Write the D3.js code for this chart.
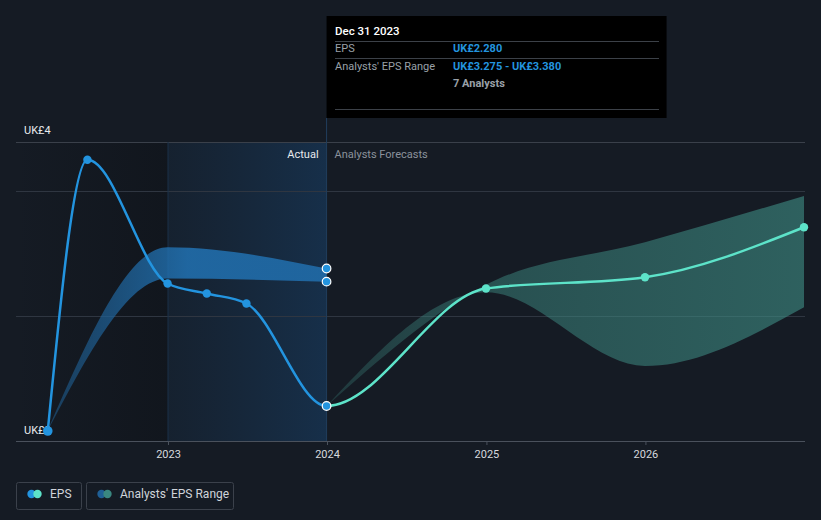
<!DOCTYPE html>
<html>
<head>
<meta charset="utf-8">
<script src="https://cdn.jsdelivr.net/npm/d3@7"></script>
<style>
  html, body { margin: 0; padding: 0; background: #151b24; }
  svg { display: block; font-family: Roboto, "Noto Sans", sans-serif; }
</style>
</head>
<body>
<svg id="chart" width="821" height="520"></svg>
<script>
// ---- data ----
const actualDates = ["2022-03-31", "2022-06-30", "2022-12-31", "2023-03-31", "2023-06-30", "2023-12-31"];
const actualEps   = [2.08, 4.25, 3.26, 3.18, 3.10, 2.28];

const pastRangeDates = ["2022-03-31", "2022-12-31", "2023-12-31"];
const pastRangeLow   = [2.08, 3.30, 3.275];
const pastRangeHigh  = [2.08, 3.55, 3.38];

const forecastDates = ["2023-12-31", "2024-12-31", "2025-12-31", "2026-12-31"];
const forecastEps   = [2.28, 3.22, 3.31, 3.71];
const forecastLow   = [2.28, 3.19, 2.60, 3.07];
const forecastHigh  = [2.28, 3.25, 3.59, 3.96];

const xTickLabels = ["2023", "2024", "2025", "2026"];
const yTickLabels = ["UK£2", "UK£4"];
const gridValues  = [3, 4];

const tooltipTitle = "Dec 31 2023";
const tooltipRows = [
  { label: "EPS", value: "UK£2.280" },
  { label: "Analysts' EPS Range", value: "UK£3.275 - UK£3.380", sub: "7 Analysts" }
];
const legendItems = ["EPS", "Analysts' EPS Range"];

(function () {
// ---- setup ----
const parse = d3.timeParse("%Y-%m-%d");
const svg = d3.select("#chart");
const pLeft = 16, pRight = 805, pTop = 142, pBottom = 441;

const x = d3.scaleTime()
  .domain([parse("2023-01-01"), parse("2024-01-01")])
  .range([168, 327]);
const y = d3.scaleLinear().domain([2, 4]).range([pBottom, 191]);

const actual = actualDates.map((d, i) => ({ date: parse(d), v: actualEps[i] }));
const forecast = forecastDates.map((d, i) => ({ date: parse(d), v: forecastEps[i], lo: forecastLow[i], hi: forecastHigh[i] }));
const pastRange = pastRangeDates.map((d, i) => ({ date: parse(d), lo: pastRangeLow[i], hi: pastRangeHigh[i] }));
const allEps = actual.concat(forecast.slice(1));
const splitDate = parse("2023-12-31");
const splitX = x(splitDate);
const yearStart = x(parse("2023-01-01"));

const defs = svg.append("defs");
const gPast = defs.append("linearGradient").attr("id", "pastBg").attr("x1", 0).attr("x2", 1);
gPast.append("stop").attr("offset", 0).attr("stop-color", "#17304a").attr("stop-opacity", 0.3);
gPast.append("stop").attr("offset", 1).attr("stop-color", "#17385a").attr("stop-opacity", 0.7);
const gDark = defs.append("linearGradient").attr("id", "darkBg").attr("x1", 0).attr("x2", 1);
gDark.append("stop").attr("offset", 0).attr("stop-color", "#0e1218").attr("stop-opacity", 0.0);
gDark.append("stop").attr("offset", 1).attr("stop-color", "#0e1218").attr("stop-opacity", 0.55);
const gBand = defs.append("linearGradient").attr("id", "pastBand").attr("gradientUnits", "userSpaceOnUse")
  .attr("x1", x(parse("2022-03-31"))).attr("x2", splitX).attr("y1", 0).attr("y2", 0);
gBand.append("stop").attr("offset", 0).attr("stop-color", "#1d5583").attr("stop-opacity", 0.6);
gBand.append("stop").attr("offset", 0.5).attr("stop-color", "#2277bb").attr("stop-opacity", 0.8);
gBand.append("stop").attr("offset", 1).attr("stop-color", "#2277bb").attr("stop-opacity", 0.75);
const gFc = defs.append("linearGradient").attr("id", "fcBand").attr("gradientUnits", "userSpaceOnUse")
  .attr("x1", splitX).attr("x2", pRight).attr("y1", 0).attr("y2", 0);
gFc.append("stop").attr("offset", 0).attr("stop-color", "#3f8f86").attr("stop-opacity", 0.25);
gFc.append("stop").attr("offset", 0.3).attr("stop-color", "#3f8f86").attr("stop-opacity", 0.45);
gFc.append("stop").attr("offset", 1).attr("stop-color", "#3f8f86").attr("stop-opacity", 0.6);

defs.append("clipPath").attr("id", "clipPast").append("rect")
  .attr("x", 0).attr("y", 0).attr("width", splitX).attr("height", 520);
defs.append("clipPath").attr("id", "clipFc").append("rect")
  .attr("x", splitX).attr("y", 0).attr("width", pRight - splitX).attr("height", 520);
defs.append("clipPath").attr("id", "clipPlot").append("rect")
  .attr("x", pLeft).attr("y", 0).attr("width", pRight - pLeft).attr("height", 520);

// backgrounds
svg.append("rect").attr("x", pLeft).attr("y", pTop).attr("width", yearStart - pLeft).attr("height", pBottom - pTop).attr("fill", "url(#darkBg)");
svg.append("rect").attr("x", yearStart).attr("y", pTop).attr("width", splitX - yearStart).attr("height", pBottom - pTop).attr("fill", "url(#pastBg)");

// gridlines
svg.append("line").attr("x1", pLeft).attr("x2", pRight).attr("y1", pTop + 0.5).attr("y2", pTop + 0.5).attr("stroke", "#3a404a").attr("stroke-width", 1);
svg.selectAll("line.grid").data(gridValues).join("line").attr("class", "grid")
  .attr("x1", pLeft).attr("x2", pRight).attr("y1", d => Math.round(y(d)) + 0.5).attr("y2", d => Math.round(y(d)) + 0.5)
  .attr("stroke", "#2f3641").attr("stroke-width", 1);

// vertical markers
svg.append("line").attr("x1", yearStart).attr("x2", yearStart).attr("y1", pTop).attr("y2", pBottom)
  .attr("stroke", "#1a3049").attr("stroke-width", 1);
svg.append("line").attr("x1", splitX).attr("x2", splitX).attr("y1", 118).attr("y2", pBottom)
  .attr("stroke", "#213d5c").attr("stroke-width", 1);

// section labels
svg.append("text").attr("x", splitX - 8).attr("y", pTop + 16).attr("text-anchor", "end")
  .attr("fill", "#e8eaed").attr("font-size", 11).text("Actual");
svg.append("text").attr("x", splitX + 8).attr("y", pTop + 16)
  .attr("fill", "#8b929c").attr("font-size", 11).text("Analysts Forecasts");

// x axis
const xAxisG = svg.append("g").attr("transform", `translate(0,${pBottom})`)
  .call(d3.axisBottom(x).tickValues(xTickLabels.map(t => parse(t + "-01-01"))).tickFormat(d3.timeFormat("%Y")).tickSize(4).tickPadding(5));
xAxisG.select(".domain").remove();
xAxisG.selectAll("line").attr("stroke", "#4a515c");
xAxisG.selectAll("text").attr("fill", "#d5d9de").attr("font-size", 11).attr("font-family", "Roboto, sans-serif");
svg.append("line").attr("x1", pLeft).attr("x2", pRight).attr("y1", pBottom + 0.5).attr("y2", pBottom + 0.5)
  .attr("stroke", "#4a515c").attr("stroke-width", 1);

// y labels
svg.append("text").attr("x", 24).attr("y", pBottom - 7).attr("fill", "#e8eaed").attr("font-size", 11).text(yTickLabels[0]);
svg.append("text").attr("x", 24).attr("y", pTop - 8).attr("fill", "#e8eaed").attr("font-size", 11).text(yTickLabels[1]);

const plot = svg.append("g").attr("clip-path", "url(#clipPlot)");

// bands
const area = d3.area().curve(d3.curveMonotoneX)
  .x(d => x(d.date)).y0(d => y(d.lo)).y1(d => y(d.hi));
plot.append("path").datum(forecast).attr("d", area).attr("fill", "url(#fcBand)");
plot.append("path").datum(pastRange).attr("d", area).attr("fill", "url(#pastBand)");

// EPS line (one continuous curve, coloured by period)
const line = d3.line().curve(d3.curveMonotoneX).x(d => x(d.date)).y(d => y(d.v));
plot.append("path").datum(allEps).attr("d", line).attr("fill", "none")
  .attr("stroke", "#2394df").attr("stroke-width", 2.5).attr("clip-path", "url(#clipPast)");
plot.append("path").datum(allEps).attr("d", line).attr("fill", "none")
  .attr("stroke", "#5de3c9").attr("stroke-width", 2.5).attr("clip-path", "url(#clipFc)");

// points
svg.selectAll("circle.fc").data(forecast.slice(1)).join("circle").attr("class", "fc")
  .attr("cx", d => x(d.date)).attr("cy", d => y(d.v)).attr("r", 4.2).attr("fill", "#5de3c9");
svg.selectAll("circle.act").data(actual.slice(0, -1)).join("circle").attr("class", "act")
  .attr("cx", d => x(d.date)).attr("cy", d => y(d.v)).attr("r", (d, i) => i === 0 ? 4.8 : 4.2).attr("fill", "#2394df");
const last = pastRange[pastRange.length - 1];
const hoverPts = [last.hi, last.lo, actual[actual.length - 1].v];
svg.selectAll("circle.hov").data(hoverPts).join("circle").attr("class", "hov")
  .attr("cx", splitX).attr("cy", d => y(d)).attr("r", 4.3)
  .attr("fill", "#2394df").attr("stroke", "#ffffff").attr("stroke-width", 1.2);

// tooltip
const tt = svg.append("g");
tt.append("rect").attr("x", splitX).attr("y", 16).attr("width", 340).attr("height", 102).attr("fill", "#000000");
tt.append("text").attr("x", 335).attr("y", 35).attr("fill", "#ffffff").attr("font-size", 11.5).attr("font-weight", 500).text(tooltipTitle);
[41.5, 58.5, 109.5].forEach(yy => tt.append("line").attr("x1", 335).attr("x2", 659).attr("y1", yy).attr("y2", yy).attr("stroke", "#3c4148"));
tt.append("text").attr("x", 335).attr("y", 52).attr("fill", "#9aa0a8").attr("font-size", 11).text(tooltipRows[0].label);
tt.append("text").attr("x", 453).attr("y", 52).attr("fill", "#2394df").attr("font-size", 11).attr("font-weight", 700).text(tooltipRows[0].value);
tt.append("text").attr("x", 335).attr("y", 70).attr("fill", "#9aa0a8").attr("font-size", 11).text(tooltipRows[1].label);
tt.append("text").attr("x", 453).attr("y", 70).attr("fill", "#2394df").attr("font-size", 11).attr("font-weight", 700).text(tooltipRows[1].value);
tt.append("text").attr("x", 453).attr("y", 87).attr("fill", "#9aa0a8").attr("font-size", 11).attr("font-weight", 700).text(tooltipRows[1].sub);

// legend
const lg = svg.append("g");
const legendBoxes = [
  { x: 16.5, w: 65, c1: "#2394df", c2: "#5de3c9", tx: 50 },
  { x: 86.5, w: 147, c1: "#1f5f95", c2: "#3a8780", tx: 120 }
];
legendBoxes.forEach((b, i) => {
  lg.append("rect").attr("x", b.x).attr("y", 482.5).attr("width", b.w).attr("height", 27).attr("rx", 2)
    .attr("fill", "none").attr("stroke", "#3b414b");
  lg.append("circle").attr("cx", b.x + 15).attr("cy", 494).attr("r", 4.2).attr("fill", b.c1);
  lg.append("circle").attr("cx", b.x + 21).attr("cy", 494).attr("r", 4.2).attr("fill", b.c2);
  lg.append("text").attr("x", b.tx).attr("y", 498).attr("fill", "#d0d4da").attr("font-size", 12).text(legendItems[i]);
});
})();
</script>
</body>
</html>
